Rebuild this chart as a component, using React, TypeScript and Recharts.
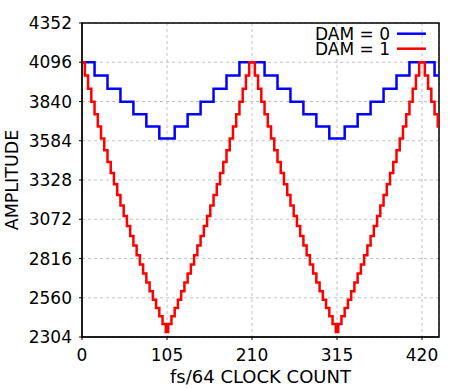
import {
  LineChart,
  Line,
  XAxis,
  YAxis,
  CartesianGrid,
  Legend,
  ReferenceArea
} from "recharts";

// amplitude for each attenuation step (0.1875 dB apart)
const levels = [
  4096, 4009, 3923, 3839, 3757, 3677, 3598, 3522, 3446, 3373, 3301, 3230, 3161,
  3094, 3028, 2963, 2900, 2838, 2777, 2718, 2660, 2603, 2547, 2493, 2440, 2388,
  2337
];

// DAM = 1 : clock count where the step changes, and the step it changes to
const dam1X = [
  0, 3.5, 7.5, 11.5, 15.5, 19.5, 23.5, 27.5, 31.5, 35.5, 39.5, 43.5, 47.5, 51.5,
  55.5, 59.5, 63.5, 67.5, 71.5, 75.5, 79.5, 83.5, 87.5, 91.5, 95.5, 99.5, 103.5,
  106.5, 110.5, 114.5, 118.5, 122.5, 126.5, 130.5, 134.5, 138.5, 142.5, 146.5,
  150.5, 154.5, 158.5, 162.5, 166.5, 170.5, 174.5, 178.5, 182.5, 186.5, 190.5,
  194.5, 198.5, 202.5, 206.5,
  213.5, 217.5, 221.5, 225.5, 229.5, 233.5, 237.5, 241.5, 245.5, 249.5, 253.5,
  257.5, 261.5, 265.5, 269.5, 273.5, 277.5, 281.5, 285.5, 289.5, 293.5, 297.5,
  301.5, 305.5, 309.5, 313.5,
  316.5, 320.5, 324.5, 328.5, 332.5, 336.5, 340.5, 344.5, 348.5, 352.5, 356.5,
  360.5, 364.5, 368.5, 372.5, 376.5, 380.5, 384.5, 388.5, 392.5, 396.5, 400.5,
  404.5, 408.5, 412.5, 416.5,
  423.5, 427.5, 431.5, 435.5, 439.5, 441
];
const dam1Step = [
  0, 1, 2, 3, 4, 5, 6, 7, 8, 9, 10, 11, 12, 13, 14, 15, 16, 17, 18, 19, 20, 21,
  22, 23, 24, 25, 26,
  25, 24, 23, 22, 21, 20, 19, 18, 17, 16, 15, 14, 13, 12, 11, 10, 9, 8, 7, 6, 5,
  4, 3, 2, 1, 0,
  1, 2, 3, 4, 5, 6, 7, 8, 9, 10, 11, 12, 13, 14, 15, 16, 17, 18, 19, 20, 21, 22,
  23, 24, 25, 26,
  25, 24, 23, 22, 21, 20, 19, 18, 17, 16, 15, 14, 13, 12, 11, 10, 9, 8, 7, 6, 5,
  4, 3, 2, 1, 0,
  1, 2, 3, 4, 5, 5
];

// DAM = 0
const dam0X = [
  0, 15.5, 31.5, 47.5, 63.5, 79.5, 95.5, 114.5, 130.5, 146.5, 162.5, 178.5,
  194.5, 225.5, 241.5, 257.5, 273.5, 289.5, 305.5, 324.5, 340.5, 356.5, 372.5,
  388.5, 404.5, 435.5, 441
];
const dam0Step = [
  0, 1, 2, 3, 4, 5, 6, 5, 4, 3, 2, 1, 0, 1, 2, 3, 4, 5, 6, 5, 4, 3, 2, 1, 0, 1, 1
];

const xTicks = [0, 105, 210, 315, 420];
const yTicks = [2304, 2560, 2816, 3072, 3328, 3584, 3840, 4096, 4352];

// one row per DAM = 1 step edge; DAM = 0 holds its last step (its edges are a subset)
const rows = dam1X.map((x, i) => {
  let k = 0;
  dam0X.forEach((x0, j) => {
    if (x0 <= x) k = j;
  });
  return { x, dam0: levels[dam0Step[k]], dam1: levels[dam1Step[i]] };
});

const series = [
  { key: "dam0", name: "DAM = 0", color: "#0000ff" },
  { key: "dam1", name: "DAM = 1", color: "#ff0000" }
];

const font = "'DejaVu Sans', sans-serif";

const LegendBox = () => (
  <svg width={472} height={60} style={{ display: "block", fontFamily: font }}>
    {series.map((s, i) => (
      <g key={s.key}>
        <text
          x={390}
          y={34 + i * 15}
          textAnchor="end"
          dominantBaseline="central"
          fontSize={17}
          fill="#000"
        >
          {s.name}
        </text>
        <line
          x1={397}
          x2={426}
          y1={33.7 + i * 15}
          y2={33.7 + i * 15}
          stroke={s.color}
          strokeWidth={2.5}
        />
      </g>
    ))}
  </svg>
);

export default function App() {
  const tickStyle = { fill: "#000", fontSize: 17, fontFamily: font };
  return (
    <div style={{ position: "absolute", left: 0, top: 0 }}>
      <LineChart
        width={472}
        height={388}
        data={rows}
        margin={{ top: 23, right: 33, bottom: 0, left: 0 }}
        style={{ fontFamily: font }}
      >
        <CartesianGrid stroke="#c0c0c0" strokeDasharray="3 3" />
        <XAxis
          dataKey="x"
          type="number"
          domain={[0, 441]}
          ticks={xTicks}
          allowDataOverflow
          height={51}
          tick={tickStyle}
          tickSize={3}
          tickMargin={9}
          stroke="#000"
          label={{
            value: "fs/64 CLOCK COUNT",
            position: "insideBottom",
            offset: 5,
            fill: "#000",
            fontSize: 18
          }}
        />
        <YAxis
          type="number"
          domain={[2304, 4352]}
          ticks={yTicks}
          allowDataOverflow
          width={82}
          tick={tickStyle}
          tickSize={3}
          tickMargin={7}
          stroke="#000"
          label={{
            content: () => (
              <text
                x={18}
                y={180}
                transform="rotate(-90 18 180)"
                textAnchor="middle"
                fontSize={17.5}
                fill="#000"
                fontFamily={font}
              >
                AMPLITUDE
              </text>
            )
          }}
        />
        <ReferenceArea
          x1={0}
          x2={441}
          y1={2304}
          y2={4352}
          fill="none"
          stroke="#000"
          strokeWidth={1.5}
          ifOverflow="visible"
        />
        {series.map(s => (
          <Line
            key={s.key}
            name={s.name}
            dataKey={s.key}
            type="stepAfter"
            stroke={s.color}
            strokeWidth={2.5}
            dot={false}
            activeDot={false}
            isAnimationActive={false}
          />
        ))}
        <Legend
          layout="horizontal"
          verticalAlign="middle"
          align="center"
          wrapperStyle={{ position: "absolute", top: 0, left: 0, width: 472, height: 60 }}
          content={() => <LegendBox />}
        />
      </LineChart>
    </div>
  );
}
